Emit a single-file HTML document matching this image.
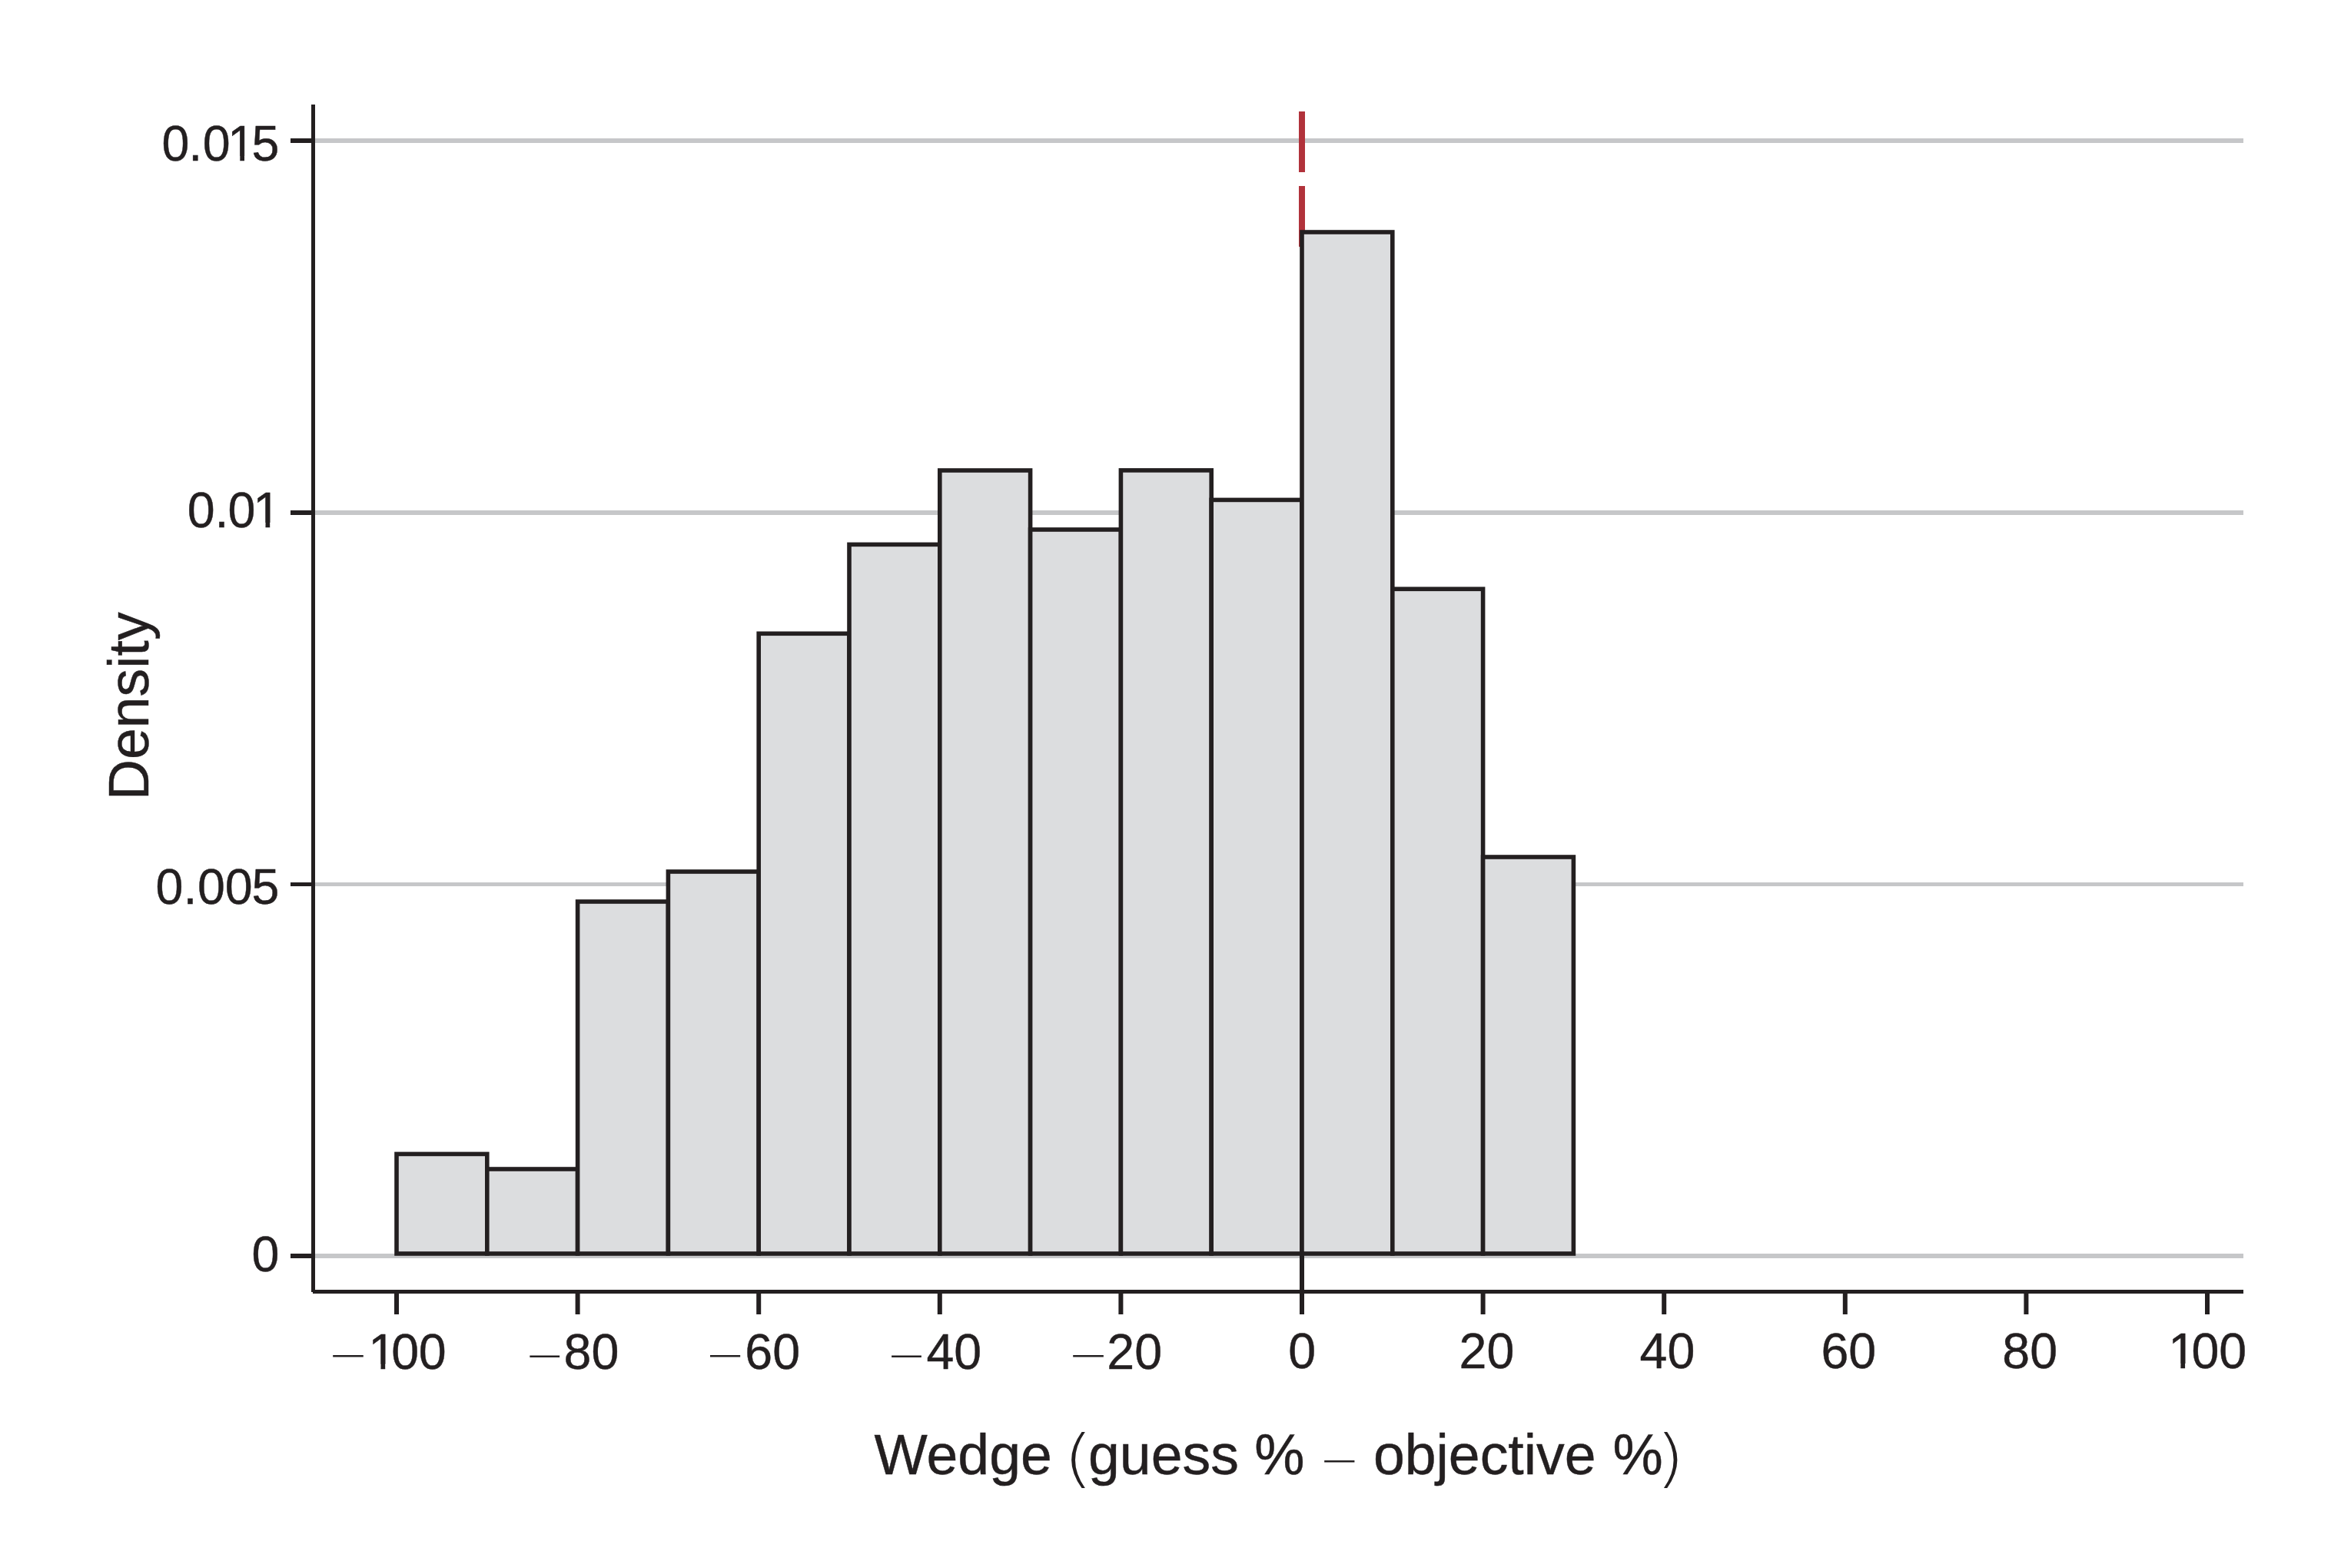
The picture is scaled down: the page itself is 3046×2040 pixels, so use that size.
<!DOCTYPE html>
<html><head><meta charset="utf-8"><title>Wedge histogram</title><style>
html,body{margin:0;padding:0;background:#fff;}
body{width:3046px;height:2040px;overflow:hidden;}
svg{display:block;}
text{font-family:"Liberation Sans",Arial,Helvetica,sans-serif;fill:#231f20;stroke:#231f20;stroke-width:0.45px;}
text.th{font-family:"DejaVu Sans",sans-serif;font-weight:200;stroke:none;}
</style></head><body>
<svg width="3046" height="2040" viewBox="0 0 3046 2040">
<defs><clipPath id="c1"><path clip-rule="evenodd" d="M190.5,149.3H387.4V229.3H190.5ZM299.49,202.98H312.30V212.30H299.49ZM318.00,202.98H330.30V212.30H318.00Z"/></clipPath><clipPath id="c2"><path clip-rule="evenodd" d="M223.7,626.3H389.3V706.3H223.7ZM332.69,679.98H345.50V689.30H332.69ZM351.20,679.98H363.50V689.30H351.20Z"/></clipPath><clipPath id="c3"><path clip-rule="evenodd" d="M459.3,1721.0H604.7V1801.0H459.3ZM482.69,1774.68H495.50V1784.00H482.69ZM501.20,1774.68H513.50V1784.00H501.20Z"/></clipPath><clipPath id="c4"><path clip-rule="evenodd" d="M2801.2,1720.4H2947.2V1800.4H2801.2ZM2824.59,1774.08H2837.40V1783.40H2824.59ZM2843.10,1774.08H2855.40V1783.40H2843.10Z"/></clipPath></defs>
<rect width="3046" height="2040" fill="#fff"/>
<g fill="#c6c7c9"><rect x="410" y="180" width="2509" height="6"/><rect x="410" y="664" width="2509" height="6"/><rect x="410" y="1148" width="2509" height="5"/><rect x="410" y="1631" width="2509" height="6"/></g>
<g fill="#b1323b"><rect x="1690" y="145" width="8" height="79"/><rect x="1690" y="242" width="8" height="79"/></g>
<g fill="#dcdddf" stroke="#231f20" stroke-width="5.6"><rect x="516.00" y="1501.40" width="117.80" height="129.60"/><rect x="633.80" y="1521.00" width="117.80" height="110.00"/><rect x="751.60" y="1173.00" width="117.80" height="458.00"/><rect x="869.40" y="1134.00" width="117.80" height="497.00"/><rect x="987.20" y="824.30" width="117.80" height="806.70"/><rect x="1105.00" y="708.40" width="117.80" height="922.60"/><rect x="1222.80" y="612.00" width="117.80" height="1019.00"/><rect x="1340.60" y="689.00" width="117.80" height="942.00"/><rect x="1458.40" y="611.90" width="117.80" height="1019.10"/><rect x="1576.20" y="650.40" width="117.80" height="980.60"/><rect x="1694.00" y="302.00" width="117.80" height="1329.00"/><rect x="1811.80" y="766.30" width="117.80" height="864.70"/><rect x="1929.60" y="1115.00" width="117.80" height="516.00"/></g>
<g fill="#231f20">
<rect x="1691" y="1628" width="6" height="82"/>
<rect x="405" y="136" width="5" height="1545"/>
<rect x="407" y="1678" width="2512" height="5"/>
<rect x="378" y="180" width="28" height="6"/><rect x="378" y="664" width="28" height="6"/><rect x="378" y="1148" width="28" height="5"/><rect x="378" y="1631" width="28" height="6"/><rect x="513.00" y="1682" width="6" height="28"/><rect x="748.60" y="1682" width="6" height="28"/><rect x="984.20" y="1682" width="6" height="28"/><rect x="1219.80" y="1682" width="6" height="28"/><rect x="1455.40" y="1682" width="6" height="28"/><rect x="1691.00" y="1682" width="6" height="28"/><rect x="1926.60" y="1682" width="6" height="28"/><rect x="2162.20" y="1682" width="6" height="28"/><rect x="2397.80" y="1682" width="6" height="28"/><rect x="2633.40" y="1682" width="6" height="28"/><rect x="2869.00" y="1682" width="6" height="28"/>
</g>
<g>
<text font-size="73.4" transform="translate(193.2,1041.02) rotate(-90)">Density</text>
<text x="210.48 245.31 263.78 296.08 327.42" y="209.30" font-size="64.5" clip-path="url(#c1)">0.015</text>
<text x="243.68 279.51 296.48 329.28" y="686.30" font-size="64.5" clip-path="url(#c2)">0.01</text>
<text x="202.48 238.41 256.88 292.78 327.42" y="1176.30" font-size="64.5">0.005</text>
<text x="327.58" y="1654.30" font-size="64.5">0</text>
<text x="426.20" y="1784.36" font-size="63.26" class="th">−</text>
<text x="479.28 509.18 544.68" y="1781.00" font-size="64.5" clip-path="url(#c3)">100</text>
<text x="682.93" y="1783.96" font-size="61.98" class="th">−</text>
<text x="733.58" y="1781.00" font-size="64.5">80</text>
<text x="917.36" y="1784.16" font-size="62.62" class="th">−</text>
<text x="969.28" y="1781.00" font-size="64.5">60</text>
<text x="1153.73" y="1783.96" font-size="61.98" class="th">−</text>
<text x="1205.38" y="1781.00" font-size="64.5">40</text>
<text x="1389.28" y="1784.41" font-size="63.42" class="th">−</text>
<text x="1440.28" y="1781.00" font-size="64.5">20</text>
<text x="1676.15" y="1780.40" font-size="64.5">0</text>
<text x="1898.58" y="1780.40" font-size="64.5">20</text>
<text x="2133.58" y="1780.40" font-size="64.5">40</text>
<text x="2369.38" y="1780.40" font-size="64.5">60</text>
<text x="2605.28" y="1780.40" font-size="64.5">80</text>
<text x="2821.18 2851.48 2887.18" y="1780.40" font-size="64.5" clip-path="url(#c4)">100</text>
<text x="1137.58" y="1918.00" font-size="73.4">Wedge</text>
<text x="-8.99" y="1925.26" font-size="82.21" class="th" transform="translate(1394.10,0) scale(1.211,1)">(</text>
<text x="1416.02" y="1918.00" font-size="73.4">guess</text>
<text x="1632.28" y="1918.00" font-size="73.4">%</text>
<text x="1716.45" y="1921.01" font-size="62.78" class="th">−</text>
<text x="1786.92" y="1918.00" font-size="73.4">objective</text>
<text x="2098.38" y="1918.00" font-size="73.4">%</text>
<text x="-8.88" y="1924.99" font-size="81.20" class="th" transform="translate(2165.00,0) scale(1.206,1)">)</text>
</g>
</svg>
</body></html>
